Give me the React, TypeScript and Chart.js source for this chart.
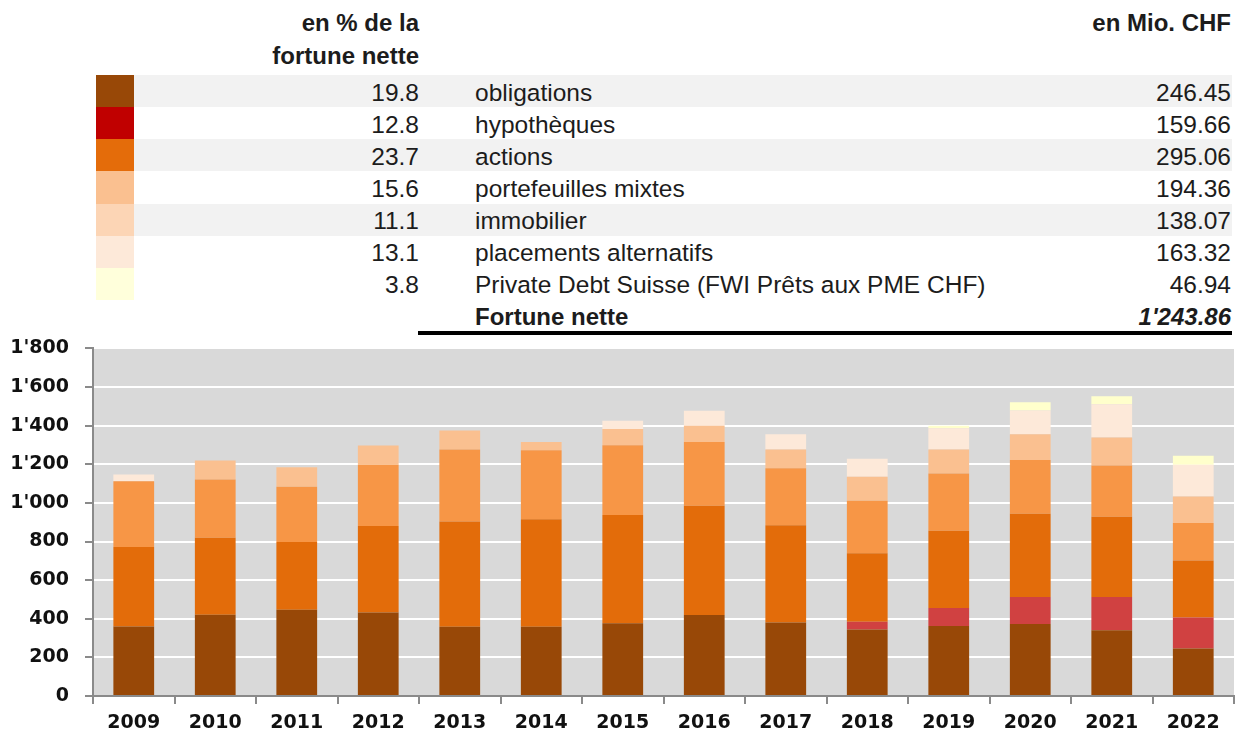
import React, { useEffect, useRef } from "react";
import { Chart, registerables } from "chart.js";

Chart.register(...registerables);

// ---- data ----
const years = ["2009", "2010", "2011", "2012", "2013", "2014", "2015", "2016", "2017", "2018", "2019", "2020", "2021", "2022"];
const obligations = [360, 421, 447, 433, 359, 359, 377, 420, 380, 344, 363, 373, 340, 246.45];
const hypotheques = [0, 0, 0, 0, 0, 0, 0, 0, 0, 40, 93, 140, 173, 159.66];
const actions = [412, 399, 351, 447, 545, 556, 560, 565, 504, 355, 400, 431, 415, 295.06];
const portefeuillesMixtes = [340, 301, 285, 317, 373, 357, 361, 330, 295, 272, 296, 278, 265, 194.36];
const immobilier = [0, 98, 102, 100, 98, 43, 84, 85, 98, 124, 125, 133, 145, 138.07];
const placementsAlternatifs = [35, 0, 0, 0, 0, 0, 43, 77, 78, 93, 110, 124, 173, 163.32];
const privateDebt = [0, 0, 0, 0, 0, 0, 0, 0, 0, 0, 13, 42, 41, 46.94];

const tableLabels = [
  "obligations",
  "hypothèques",
  "actions",
  "portefeuilles mixtes",
  "immobilier",
  "placements alternatifs",
  "Private Debt Suisse (FWI Prêts aux PME CHF)",
];
const tablePercents = ["19.8", "12.8", "23.7", "15.6", "11.1", "13.1", "3.8"];
const tableAmounts = ["246.45", "159.66", "295.06", "194.36", "138.07", "163.32", "46.94"];
const totalLabel = "Fortune nette";
const totalAmount = "1'243.86";
const yTicks = [0, 200, 400, 600, 800, 1000, 1200, 1400, 1600, 1800];

// ---- styles ----
const seriesColors = ["#984807", "#D04141", "#E36C0A", "#F79646", "#FAC090", "#FDE9D9", "#FFFFCC"];
const swatchColors = ["#984807", "#C00000", "#E46C0A", "#FAC090", "#FCD5B5", "#FDE9D9", "#FFFFDB"];

const fmt = (v: number) => {
  const s = String(Math.round(v));
  return s.replace(/\B(?=(\d{3})+(?!\d))/g, "'");
};

const bgPlugin = {
  id: "plotBg",
  beforeDraw(chart: any) {
    const { ctx, chartArea } = chart;
    ctx.save();
    ctx.fillStyle = "#D9D9D9";
    ctx.fillRect(chartArea.left, chartArea.top, chartArea.right - chartArea.left, chartArea.bottom - chartArea.top);
    ctx.restore();
  },
};

const CANVAS_TOP = 321;
const CANVAS_H = 731 - CANVAS_TOP;

function BarChart() {
  const ref = useRef<HTMLCanvasElement | null>(null);
  useEffect(() => {
    if (!ref.current) return;
    const names = tableLabels;
    const series = [obligations, hypotheques, actions, portefeuillesMixtes, immobilier, placementsAlternatifs, privateDebt];
    const chart = new Chart(ref.current, {
      type: "bar",
      data: {
        labels: years,
        datasets: series.map((d, i) => ({
          label: names[i],
          data: d,
          backgroundColor: seriesColors[i],
          borderWidth: 0,
          barPercentage: 0.5,
          categoryPercentage: 1.0,
        })),
      },
      options: {
        animation: false,
        responsive: false,
        maintainAspectRatio: false,
        layout: { padding: { top: 11, right: 13, left: 0, bottom: 0 } },
        plugins: { legend: { display: false }, tooltip: { enabled: false } },
        scales: {
          x: {
            stacked: true,
            afterFit: (s: any) => {
              s.height = 35;
            },
            grid: {
              display: true,
              drawOnChartArea: false,
              drawTicks: true,
              tickLength: 8,
              offset: true,
              color: "#8A8A8A",
              tickColor: "#8A8A8A",
              lineWidth: 2,
            },
            border: { display: true, color: "#8A8A8A", width: 2 },
            ticks: {
              color: "#111",
              padding: 8,
              font: { family: "'DejaVu Sans', Verdana, sans-serif", size: 19, weight: "bold" },
            },
          },
          y: {
            stacked: true,
            min: 0,
            max: 1800,
            afterFit: (s: any) => {
              s.width = 93;
            },
            afterBuildTicks: (s: any) => {
              s.ticks = yTicks.map((v) => ({ value: v }));
            },
            grid: {
              color: (c: any) => (c.tick && c.tick.value === 0 ? "rgba(0,0,0,0)" : "#FFFFFF"),
              tickColor: "#8A8A8A",
              lineWidth: 2,
              tickLength: 8,
            },
            border: { display: true, color: "#8A8A8A", width: 2 },
            ticks: {
              color: "#111",
              padding: 16,
              callback: (v: any) => fmt(Number(v)),
              font: { family: "'DejaVu Sans', Verdana, sans-serif", size: 19, weight: "bold" },
            },
          },
        },
      },
      plugins: [bgPlugin],
    });
    return () => chart.destroy();
  }, []);
  return (
    <canvas
      ref={ref}
      width={1247}
      height={CANVAS_H}
      style={{ position: "absolute", left: 0, top: CANVAS_TOP, width: 1247, height: CANVAS_H }}
    />
  );
}

export default function App() {
  const rowTop = 75;
  const rowH = 32.14;
  const font = "'Liberation Sans', Arial, sans-serif";
  const txt: React.CSSProperties = {
    position: "absolute",
    fontFamily: font,
    fontSize: 24.5,
    color: "#1c1c1c",
    whiteSpace: "nowrap",
    lineHeight: `${rowH}px`,
    height: rowH,
  };
  return (
    <div style={{ position: "fixed", left: 0, top: 0, width: 1247, height: 731, background: "#fff", overflow: "hidden" }}>
      <div
        style={{
          position: "absolute",
          right: 1247 - 419,
          top: 6,
          textAlign: "right",
          fontFamily: font,
          fontWeight: "bold",
          fontSize: 24,
          lineHeight: "33px",
          color: "#1c1c1c",
        }}
      >
        en % de la
        <br />
        fortune nette
      </div>
      <div
        style={{
          position: "absolute",
          right: 1247 - 1231,
          top: 6,
          textAlign: "right",
          fontFamily: font,
          fontWeight: "bold",
          fontSize: 24,
          lineHeight: "33px",
          color: "#1c1c1c",
          whiteSpace: "nowrap",
        }}
      >
        en Mio. CHF
      </div>
      {tableLabels.map((lab, i) => {
        const top = rowTop + i * rowH;
        return (
          <React.Fragment key={lab}>
            <div style={{ position: "absolute", left: 96, top, width: 38, height: rowH + 0.5, background: swatchColors[i] }} />
            {i % 2 === 0 && i < 6 && (
              <div style={{ position: "absolute", left: 134, top, width: 1098, height: rowH, background: "#F2F2F2" }} />
            )}
            <div style={{ ...txt, right: 1247 - 419, top: top + 1.5, textAlign: "right" }}>{tablePercents[i]}</div>
            <div style={{ ...txt, left: 475, top: top + 1.5 }}>{lab}</div>
            <div style={{ ...txt, right: 1247 - 1231, top: top + 1.5, textAlign: "right" }}>{tableAmounts[i]}</div>
          </React.Fragment>
        );
      })}
      <div style={{ ...txt, left: 475, top: rowTop + 7 * rowH + 1.5, fontWeight: "bold", fontSize: 24 }}>{totalLabel}</div>
      <div
        style={{
          ...txt,
          right: 1247 - 1231,
          top: rowTop + 7 * rowH + 1.5,
          textAlign: "right",
          fontWeight: "bold",
          fontStyle: "italic",
          fontSize: 24,
        }}
      >
        {totalAmount}
      </div>
      <div style={{ position: "absolute", left: 418, top: 331, width: 814, height: 3.5, background: "#000" }} />
      <BarChart />
    </div>
  );
}
